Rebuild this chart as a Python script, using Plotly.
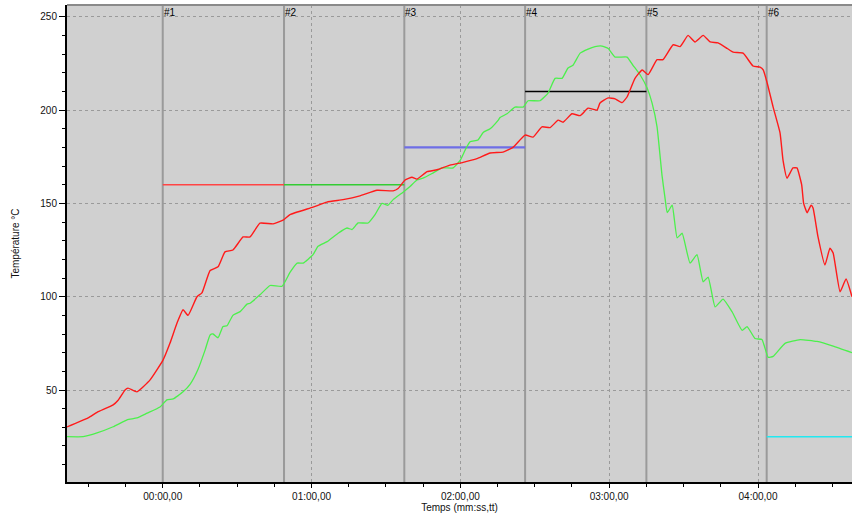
import plotly.graph_objects as go

# --- data (seconds, degrees C) ---
red_t = [-38.6, -30.1, -26.5, -20.0, -18.0, -15.2, -14.0, -10.4, -5.1, 0.1, 2.9, 5.8, 8.2, 10.2,
         13.8, 15.8, 19.1, 22.3, 25.1, 28.3, 32.4, 35.2, 39.2, 44.5, 48.5, 51.3, 60.6, 66.2,
         72.7, 79.5, 86.4, 92.9, 94.9, 97.7, 100.5, 102.5, 106.6, 110.6, 115.8, 121.1, 126.7,
         132.0, 137.2, 141.2, 146.1, 149.3, 152.9, 156.2, 159.4, 161.4, 165.0, 168.3, 171.5,
         175.1, 176.3, 179.6, 182.4, 185.2, 187.2, 190.4, 193.3, 195.7, 199.3, 201.7, 205.8,
         208.6, 211.8, 214.6, 217.9, 220.7, 223.9, 227.6, 230.0, 234.0, 238.0, 240.8, 242.1,
         243.7, 246.1, 248.9, 250.1, 251.7, 254.1, 255.7, 257.6, 258.4, 259.8, 261.4, 262.2,
         264.2, 267.0, 269.0, 270.3, 273.1, 275.5, 277.9]
red_v = [30.2, 35, 38, 42, 44.5, 50, 51, 49, 55.4, 66, 75, 86, 93, 90,
         100, 102, 114, 116, 124, 125, 132, 132, 139.4, 139, 141, 144, 148, 150.7,
         152, 154, 157, 156.7, 158, 162.5, 164, 163, 167, 168, 170.5, 172, 174,
         177, 177.5, 180, 186.6, 185.5, 191, 190.6, 194.6, 193.5, 198, 197, 201,
         200, 203.8, 206.5, 206, 204, 207, 217, 221.5, 219, 227, 227, 235,
         234, 240, 236.5, 240, 236.5, 236, 233, 231, 230.5, 223.6, 223, 221.5,
         214.5, 201.6, 187.7, 173, 163.5, 169, 169, 160, 150, 145, 149, 147.5,
         132, 117, 126, 123.4, 102.6, 109.5, 100]

green_t = [-38.6, -32.1, -26.5, -20.0, -14.4, -10.4, -6.3, -1.1, 1.7, 4.2, 8.2, 11.0, 14.2,
           17.1, 19.1, 20.3, 22.3, 24.3, 25.9, 28.3, 31.2, 34.0, 35.2, 39.2, 43.3, 48.1,
           51.3, 54.2, 56.6, 60.6, 62.6, 66.3, 70.7, 74.3, 76.3, 78.8, 82.8, 85.6, 88.4,
           90.8, 92.9, 96.9, 99.7, 102.5, 104.9, 108.6, 112.6, 117.1, 119.9, 121.9, 123.9,
           127.1, 129.2, 132.0, 135.2, 136.0, 138.8, 142.0, 145.3, 147.3, 152.1, 155.3,
           158.2, 161.0, 163.4, 165.4, 168.3, 171.5, 174.3, 177.1, 179.6, 182.4, 187.2,
           189.6, 192.5, 195.3, 197.3, 199.3, 201.3, 202.6, 203.4, 205.4, 207.4, 209.4,
           212.6, 215.4, 217.9, 219.9, 222.7, 225.9, 229.6, 233.6, 235.6, 238.8, 241.6,
           244.1, 246.1, 250.9, 257.0, 263.8, 270.3, 277.9]
green_v = [25, 25, 27, 30.3, 34, 35, 37.6, 40.9, 44.7, 45.2, 49, 53, 61,
           71.5, 79.5, 80, 78, 84, 84.4, 90, 92, 96, 96.5, 101, 106, 105.6,
           113, 118, 118, 122.5, 127, 129.5, 134, 136.8, 136, 139.5, 139.5, 144, 150,
           149, 152, 156, 159, 162.5, 163.5, 166, 169, 169, 173, 178.5, 183,
           184, 188, 190, 194.5, 196, 198, 201.6, 201.6, 205, 205, 209,
           217, 217, 222.5, 224, 230.5, 232.7, 234, 234.3, 233, 228.4, 228.4,
           224, 218.8, 211.8, 203.7, 191, 165, 152, 145, 149, 131.5, 134,
           118, 122.5, 108, 110.5, 94.5, 98.7, 91.8, 82, 84, 77.6, 77,
           67.5, 68, 75, 77, 76, 73.5, 70]

marker_t = [0.0, 48.9, 97.4, 146.1, 195.0, 243.5]
marker_labels = ["#1", "#2", "#3", "#4", "#5", "#6"]

# setpoint segments: (start, end, value, colour)
seg_start = [0.0, 48.9, 97.4, 146.1, 243.5]
seg_end = [48.9, 97.4, 146.1, 195.0, 277.9]
seg_value = [160, 160, 180, 210, 25]
seg_color = ["#ff4444", "#33cc33", "#6e6ee6", "#000000", "#22e8f0"]
seg_width = [1.5, 1.5, 2.2, 1.5, 1.5]

x_tickvals = [0, 60, 120, 180, 240]
x_ticktext = ["00:00,00", "01:00,00", "02:00,00", "03:00,00", "04:00,00"]
y_tickvals = [50, 100, 150, 200, 250]

X_RANGE = [-38.6, 277.9]
Y_RANGE = [0.7, 256.3]

fig = go.Figure()

for s, e, v, c, w in zip(seg_start, seg_end, seg_value, seg_color, seg_width):
    fig.add_trace(go.Scatter(x=[s, e], y=[v, v], mode="lines",
                             line=dict(color=c, width=w), hoverinfo="skip",
                             showlegend=False))

fig.add_trace(go.Scatter(x=green_t, y=green_v, mode="lines",
                         line=dict(color="#4cf04c", width=1.3, shape="spline", smoothing=0.4),
                         showlegend=False))
fig.add_trace(go.Scatter(x=red_t, y=red_v, mode="lines",
                         line=dict(color="#ff1a1a", width=1.4, shape="spline", smoothing=0.4),
                         showlegend=False))

shapes = []
for t in marker_t:
    shapes.append(dict(type="line", xref="x", yref="paper", x0=t, x1=t, y0=0, y1=1,
                       line=dict(color="#9a9a9a", width=2), layer="between"))
shapes.append(dict(type="line", xref="paper", yref="paper", x0=0, x1=1, y0=1, y1=1,
                   line=dict(color="#8a8a8a", width=2), layer="above"))

annotations = []
for t, lab in zip(marker_t, marker_labels):
    annotations.append(dict(x=t, y=1, xref="x", yref="paper", text=lab, showarrow=False,
                            xanchor="left", yanchor="top", xshift=-1, yshift=0,
                            font=dict(size=10, color="black", family="Liberation Sans")))

font = dict(family="Liberation Sans", size=10, color="#111111")

fig.update_layout(
    width=852, height=516,
    margin=dict(l=67, r=0, t=5, b=34),
    paper_bgcolor="white",
    plot_bgcolor="#d0d0d0",
    font=font,
    shapes=shapes,
    annotations=annotations,
    xaxis=dict(range=X_RANGE, tickmode="array", tickvals=x_tickvals, ticktext=x_ticktext,
               showgrid=True, gridcolor="#9a9a9a", griddash="3px,3px", gridwidth=1,
               zeroline=False, showline=True, linecolor="black", linewidth=2,
               ticks="outside", ticklen=4, tickcolor="black",
               minor=dict(tickmode="linear", tick0=0, dtick=15, ticks="outside", ticklen=3,
                          tickcolor="black", showgrid=False),
               title=dict(text="Temps (mm:ss,tt)", font=dict(size=10), standoff=2),
               tickfont=dict(size=10)),
    yaxis=dict(range=Y_RANGE, tickmode="array", tickvals=y_tickvals,
               showgrid=True, gridcolor="#9a9a9a", griddash="3px,3px", gridwidth=1,
               zeroline=False, showline=True, linecolor="black", linewidth=2,
               ticks="outside", ticklen=6, tickcolor="black",
               minor=dict(tickmode="linear", tick0=0, dtick=10, ticks="outside", ticklen=3,
                          tickcolor="black", showgrid=False),
               title=dict(text="Température °C", font=dict(size=10), standoff=19),
               tickfont=dict(size=10)),
)

fig.write_html("out.html")
